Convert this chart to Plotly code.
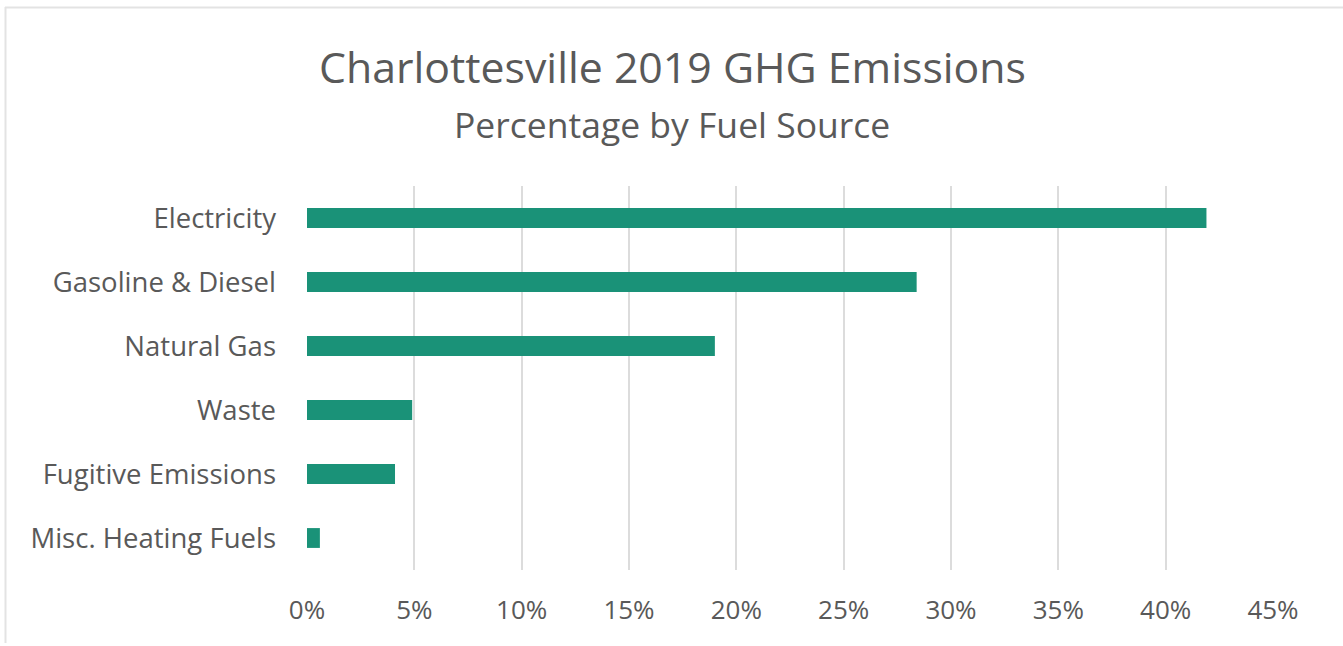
import plotly.graph_objects as go

categories = ["Electricity", "Gasoline & Diesel", "Natural Gas", "Waste",
              "Fugitive Emissions", "Misc. Heating Fuels"]
values = [0.419, 0.284, 0.190, 0.049, 0.041, 0.006]
x_ticks = [0, 0.05, 0.10, 0.15, 0.20, 0.25, 0.30, 0.35, 0.40, 0.45]
x_tick_labels = ["0%", "5%", "10%", "15%", "20%", "25%", "30%", "35%", "40%", "45%"]

FONT = "Open Sans"
TXT = "#595959"

W, H = 1343, 646
pl, pr, pt, pb = 307, 70, 186, 76
pw, ph = W - pl - pr, H - pt - pb

def px(x):
    return (x - pl) / pw

def py(y):
    return (H - pb - y) / ph

fig = go.Figure(go.Bar(
    y=categories, x=values, orientation="h",
    marker=dict(color="#1a9278", line=dict(width=0)),
    width=0.31,
))

fig.update_layout(
    width=W, height=H,
    margin=dict(l=pl, r=pr, t=pt, b=pb),
    paper_bgcolor="white", plot_bgcolor="white",
    font=dict(family=FONT, color=TXT),
    showlegend=False,
    xaxis=dict(
        range=[0, 0.45], tickvals=x_ticks, ticktext=x_tick_labels,
        showgrid=True, gridcolor="#dcdcdc", gridwidth=2,
        zeroline=False, showline=False, ticks="",
        tickfont=dict(size=26, color=TXT, family=FONT),
        ticklabelstandoff=22, fixedrange=True,
    ),
    yaxis=dict(
        categoryorder="array", categoryarray=categories[::-1],
        showgrid=False, zeroline=False, showline=False, ticks="",
        tickfont=dict(size=27.5, color=TXT, family=FONT),
        ticklabelstandoff=30, fixedrange=True,
    ),
)

fig.add_annotation(text="Charlottesville 2019 GHG Emissions", x=px(672), y=py(66),
                   xref="paper", yref="paper", showarrow=False,
                   xanchor="center", yanchor="middle",
                   font=dict(size=42.8, color=TXT, family=FONT))
fig.add_annotation(text="Percentage by Fuel Source", x=px(672), y=py(124),
                   xref="paper", yref="paper", showarrow=False,
                   xanchor="center", yanchor="middle",
                   font=dict(size=35.5, color=TXT, family=FONT))

# Outer frame lines (top and left)
fig.add_shape(type="line", xref="paper", yref="paper",
              x0=px(5), x1=px(W), y0=py(7.5), y1=py(7.5),
              line=dict(color="#e3e3e3", width=2))
fig.add_shape(type="line", xref="paper", yref="paper",
              x0=px(5.5), x1=px(5.5), y0=py(7), y1=py(643),
              line=dict(color="#e3e3e3", width=2))

fig.write_html("out.html", config={"displayModeBar": False},
               post_script="document.body.style.margin='0';")
